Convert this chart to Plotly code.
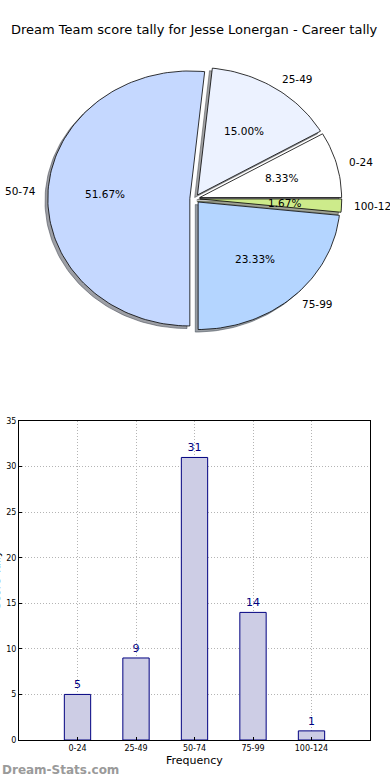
import math
import plotly.graph_objects as go

# ---- data ----
categories = ["0-24", "25-49", "50-74", "75-99", "100-124"]
counts = [5, 9, 31, 14, 1]
pie_colors = ["#ffffff", "#ecf2ff", "#c5d8ff", "#b4d5ff", "#cdeb8b"]
y_ticks = [0, 5, 10, 15, 20, 25, 30, 35]
title_text = "Dream Team score tally for Jesse Lonergan - Career tally"

W, H = 390, 780
FONT = "DejaVu Sans"

# ---- pie geometry (matplotlib-like: unit circle on a non-square axes) ----
explode = 0.035
pct_dist = 0.6
label_dist = 1.08
pcx, pcy = 194.8, 198.7          # pixel centre of the pie axes
rx_px, ry_px = 142.0, 127.5      # pixels per data unit in x and y
prange = 1.3


def px_x(x):
    return x / W


def px_y(y):
    return 1 - y / H


def shade(hexcol):
    h = hexcol.lstrip("#")
    rr, gg, bb = int(h[0:2], 16), int(h[2:4], 16), int(h[4:6], 16)
    return f"rgba({int(rr*0.3)},{int(gg*0.3)},{int(bb*0.3)},0.5)"


fig = go.Figure()

total = sum(counts)
wedges = []
cum = 0.0
for lab, v, col in zip(categories, counts, pie_colors):
    a0 = 2 * math.pi * cum / total
    a1 = 2 * math.pi * (cum + v) / total
    cum += v
    mid = (a0 + a1) / 2
    ox, oy = explode * math.cos(mid), explode * math.sin(mid)
    n = max(4, int(math.degrees(a1 - a0) / 1.5))
    xs = [ox] + [ox + math.cos(a0 + (a1 - a0) * k / n) for k in range(n + 1)] + [ox]
    ys = [oy] + [oy + math.sin(a0 + (a1 - a0) * k / n) for k in range(n + 1)] + [oy]
    wedges.append((lab, v, col, mid, xs, ys))

# shadows
for lab, v, col, mid, xs, ys in wedges:
    fig.add_trace(go.Scatter(
        x=[x - 0.02 for x in xs], y=[y - 0.02 for y in ys],
        xaxis="x2", yaxis="y2", mode="lines", fill="toself",
        fillcolor=shade(col), line=dict(color=shade(col), width=1),
        hoverinfo="skip", showlegend=False))
# wedges
for lab, v, col, mid, xs, ys in wedges:
    fig.add_trace(go.Scatter(
        x=xs, y=ys, xaxis="x2", yaxis="y2", mode="lines", fill="toself",
        fillcolor=col, line=dict(color="#000000", width=0.8),
        name=lab, showlegend=False))

annotations = []
for lab, v, col, mid, xs, ys in wedges:
    c, s = math.cos(mid), math.sin(mid)
    annotations.append(dict(
        x=(explode + pct_dist) * c, y=(explode + pct_dist) * s, xref="x2", yref="y2",
        text=f"{100 * v / total:.2f}%", showarrow=False,
        font=dict(family=FONT, size=10.5, color="#000000"),
        xanchor="center", yanchor="middle", borderpad=0))
    annotations.append(dict(
        x=(explode + label_dist) * c, y=(explode + label_dist) * s, xref="x2", yref="y2",
        text=lab, showarrow=False,
        font=dict(family=FONT, size=10.5, color="#000000"),
        xanchor="left" if c > 0 else "right", yanchor="middle", borderpad=0))

# ---- bar chart ----
fig.add_trace(go.Bar(
    x=categories, y=counts, xaxis="x", yaxis="y",
    width=0.45,
    marker=dict(color="#cdcde5", line=dict(color="#000080", width=1)),
    text=[str(v) for v in counts], textposition="outside",
    textfont=dict(family=FONT, size=11, color="#000080"),
    constraintext="none", cliponaxis=False, showlegend=False,
))

# title
annotations.append(dict(
    x=px_x(194.5), y=px_y(29.5), xref="paper", yref="paper", text=title_text,
    showarrow=False, font=dict(family=FONT, size=13, color="#000000"),
    xanchor="center", yanchor="middle"))
# axis titles
annotations.append(dict(
    x=px_x(194), y=px_y(760), xref="paper", yref="paper", text="Frequency",
    showarrow=False, font=dict(family=FONT, size=11, color="#000000"),
    xanchor="center", yanchor="middle"))
annotations.append(dict(
    x=px_x(-4), y=px_y(580), xref="paper", yref="paper", text="Score Tally",
    showarrow=False, textangle=-90, font=dict(family=FONT, size=11, color="#000000"),
    xanchor="center", yanchor="middle"))
# watermark
annotations.append(dict(
    x=0, y=px_y(770), xref="paper", yref="paper", text="<b>Dream-Stats.com</b>",
    showarrow=False, font=dict(family=FONT, size=12, color="#9a9a9a"),
    xanchor="left", yanchor="middle"))

hidden_axis = dict(visible=False, showgrid=False, zeroline=False, fixedrange=True)

fig.update_layout(
    width=W, height=H,
    margin=dict(l=0, r=0, t=0, b=0),
    paper_bgcolor="#ffffff", plot_bgcolor="rgba(0,0,0,0)",
    annotations=annotations,
    xaxis=dict(domain=[px_x(19), px_x(370)], type="category", range=[-1, 5],
               showgrid=True, gridcolor="#b4b4b4", griddash="1px,2px", gridwidth=1,
               showline=True, linecolor="#000000", linewidth=1, mirror=True,
               ticks="inside", ticklen=3, tickcolor="#000000",
               tickfont=dict(family=FONT, size=8, color="#000000"), anchor="y",
               automargin=False),
    yaxis=dict(domain=[px_y(740), px_y(421)], range=[0, 35], tickvals=y_ticks,
               showgrid=True, gridcolor="#b4b4b4", griddash="1px,2px", gridwidth=1,
               zeroline=False,
               showline=True, linecolor="#000000", linewidth=1, mirror=True,
               ticks="inside", ticklen=3, tickcolor="#000000",
               tickfont=dict(family=FONT, size=8, color="#000000"), anchor="x",
               automargin=False),
    xaxis2=dict(hidden_axis, range=[-prange, prange], anchor="y2",
                domain=[px_x(pcx - prange * rx_px), px_x(pcx + prange * rx_px)]),
    yaxis2=dict(hidden_axis, range=[-prange, prange], anchor="x2",
                domain=[px_y(pcy + prange * ry_px), px_y(pcy - prange * ry_px)]),
    font=dict(family=FONT),
)

fig.write_html(
    "out.html",
    config={"displayModeBar": False},
    post_script=(
        "document.documentElement.style.overflow='hidden';"
        "document.body.style.margin='0px';"
        "document.body.style.overflow='hidden';"
        "var d=document.getElementById('{plot_id}');"
        "d.style.position='fixed';d.style.left='0px';d.style.top='0px';"
    ),
)
